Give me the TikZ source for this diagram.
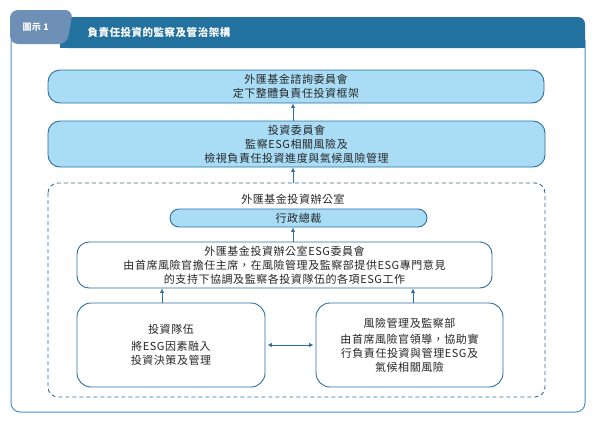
\documentclass[tikz,border=0pt]{standalone}
\usepackage{fontspec}
\setmainfont[LetterSpace=5]{Noto Sans CJK TC}
\usetikzlibrary{arrows.meta,positioning}
\definecolor{boxline}{HTML}{2B6E9F}
\definecolor{boxfill}{HTML}{A9DDF6}
\definecolor{headblue}{HTML}{23719E}
\definecolor{tabblue}{HTML}{6E90B7}
\definecolor{framec}{HTML}{4F8FC0}
\definecolor{txt}{HTML}{262626}

\begin{document}
\begin{tikzpicture}[x=1pt,y=-1pt,
  box/.style={draw=boxline, line width=0.9pt, rounded corners=12pt, align=center,
    inner sep=0pt, text=txt, font=\fontsize{11}{14}\selectfont},
  fillbox/.style={box, fill=boxfill},
  arr/.style={-{Latex[length=4.5pt,width=4.5pt]}, draw=boxline, line width=0.9pt}]
\useasboundingbox (0,0) rectangle (592,426);

% frame and header
\draw[framec, line width=1pt, rounded corners=9pt] (11,40) -- (11,412) -- (585,412) -- (585,40);
\fill[headblue, rounded corners=7pt] (60,17) rectangle (585,48);
\fill[headblue] (60,30) rectangle (585,48);
\fill[headblue] (60,17) rectangle (100,48);
\fill[tabblue, rounded corners=8pt] (10,10) -- (73,10) -- (67,44) -- (10,44) -- cycle;
\node[anchor=west, text=white, font=\fontsize{9}{10}\bfseries] (tab) at (19,27) {圖示 1};
\node[anchor=west, text=white, font=\fontsize{10.5}{12}\bfseries] (title) at (84,33) {負責任投資的監察及管治架構};

% committees
\node[fillbox, minimum width=496pt, minimum height=33pt] (efac) at (296,86.5)
  {外匯基金諮詢委員會\\定下整體負責任投資框架};
\node[fillbox, minimum width=497pt, minimum height=46pt] (ic) at (296.5,144)
  {投資委員會\\監察ESG相關風險及\\檢視負責任投資進度與氣候風險管理};

% investment office
\draw[boxline, line width=0.9pt, dash pattern=on 4pt off 3pt, rounded corners=10pt]
  (48,183) rectangle (545,397);
\coordinate (office) at (293,183);
\node[text=txt, font=\fontsize{11}{14}\selectfont] (officelbl) at (293,199) {外匯基金投資辦公室};
\node[fillbox, rounded corners=9pt, minimum width=257pt, minimum height=18pt] (ceo) at (298.5,218) {行政總裁};
\node[box, fill=white, minimum width=415pt, minimum height=46pt] (esg) at (284.5,265)
  {外匯基金投資辦公室ESG委員會\\由首席風險官擔任主席，在風險管理及監察部提供ESG專門意見\\的支持下協調及監察各投資隊伍的各項ESG工作};
\node[box, fill=white, rounded corners=14pt, minimum width=188pt, minimum height=84pt] (team) at (171,345)
  {投資隊伍\\[3pt]將ESG因素融入\\投資決策及管理};
\node[box, fill=white, rounded corners=14pt, minimum width=187pt, minimum height=84pt] (risk) at (409.5,345)
  {風險管理及監察部\\[2pt]由首席風險官領導，協助實\\行負責任投資與管理ESG及\\氣候相關風險};

% connectors
\draw[arr] (ic.north -| office) -- (efac.south -| office);
\draw[arr] (office) -- (ic.south -| office);
\draw[arr] (esg.north -| office) -- (ceo.south -| office);
\draw[arr] ([xshift=-9pt]team.north) -- ([xshift=-9pt]team.north |- esg.south);
\draw[arr] ([xshift=3.5pt]risk.north) -- ([xshift=3.5pt]risk.north |- esg.south);
\draw[arr, {Latex[length=4.5pt,width=4.5pt]}-{Latex[length=4.5pt,width=4.5pt]}] ([xshift=2pt]team.east) -- ([xshift=-2pt]risk.west);
\end{tikzpicture}
\end{document}
